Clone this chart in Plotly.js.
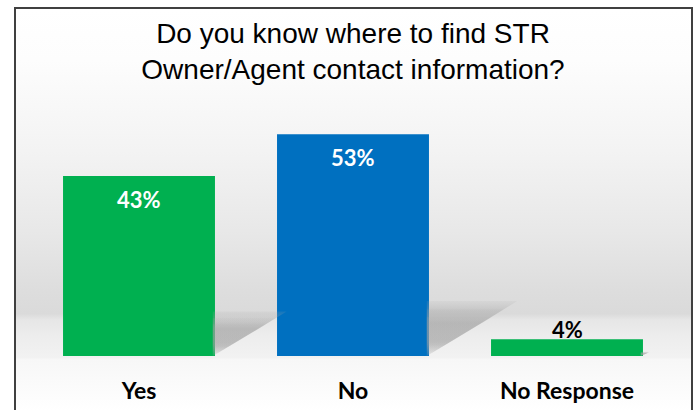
<!DOCTYPE html>
<html>
<head>
<meta charset="utf-8">
<script src="https://cdn.plot.ly/plotly-3.0.1.min.js"></script>
<style>html,body{margin:0;padding:0;background:#fff;}#chart{width:696px;height:410px;}</style>
</head>
<body>
<div id="chart"></div>
<script>
// ---- data ----
const categories = ['Yes', 'No', 'No Response'];
const values = [43, 53, 4];
const valueLabels = ['43%', '53%', '4%'];
const barColors = ['#00B050', '#0070C0', '#00B050'];
const chartTitle = 'Do you know where to find STR<br>Owner/Agent contact information?';

// ---- geometry / style ----
const W = 696, H = 410;
const M = {l: 32, r: 22, t: 105, b: 54};
const PW = W - M.l - M.r, PH = H - M.t - M.b;
const px2x = px => (px - M.l) / PW;
const py2y = py => 1 - (py - M.t) / PH;
const bargap = 0.29;
const halfW = (1 - bargap) / 2;
const idx = categories.map((_, i) => i);

// background gradient (wall + floor)
const stops = [
  [0, '#ffffff'], [0.127, '#fdfdfd'], [0.352, '#f3f3f3'], [0.551, '#e8e8e8'],
  [0.701, '#dddddd'], [0.756, '#dadada'], [0.771, '#e6e6e6'], [0.813, '#ededed'],
  [0.865, '#f2f2f2'], [0.870, '#f7f7f7'], [1, '#ffffff']
];
const svg = "<svg xmlns='http://www.w3.org/2000/svg' width='100' height='400' viewBox='0 0 100 400' preserveAspectRatio='none'>" +
  "<defs><linearGradient id='g' x1='0' y1='0' x2='0' y2='1'>" +
  stops.map(s => "<stop offset='" + s[0] + "' stop-color='" + s[1] + "'/>").join('') +
  "</linearGradient></defs><rect width='100' height='400' fill='url(#g)'/></svg>";
const bgSrc = 'data:image/svg+xml;base64,' + btoa(svg);

// soft shadows (visible part to the right of each bar), layered for blur
const blurLayers = [1.18, 1.0, 0.84];
const shadowTraces = [];
blurLayers.forEach(k => {
  idx.forEach(i => {
    const v = values[i];
    const xr = idx[i] + halfW;
    const hs = v * 0.21 * k;
    const dx = v * 0.0066 * k;
    shadowTraces.push({
      type: 'scatter', mode: 'none', hoverinfo: 'skip', showlegend: false,
      x: [xr - 0.01, xr + dx, xr - 0.01, xr - 0.01],
      y: [0, hs, hs, 0],
      fill: 'toself',
      fillgradient: {
        type: 'vertical',
        colorscale: [[0, 'rgba(170,170,170,0.05)'], [0.3, 'rgba(160,160,160,0.3)'],
                     [0.85, 'rgba(160,160,160,0.32)'], [1, 'rgba(170,170,170,0.12)']]
      }
    });
  });
});

const barTrace = {
  type: 'bar', x: idx, y: values,
  marker: {color: barColors, line: {width: 0}},
  hoverinfo: 'skip', showlegend: false
};

const annotations = idx.map(i => {
  const inside = values[i] > 10;
  return {
    x: idx[i], y: values[i], xref: 'x', yref: 'y',
    text: valueLabels[i], showarrow: false,
    yanchor: 'middle', yshift: inside ? -23 : 10,
    font: {family: 'Lato, sans-serif', size: 22, weight: 'bold', color: inside ? '#ffffff' : '#000000'}
  };
});

const layout = {
  width: W, height: H,
  margin: {l: M.l, r: M.r, t: M.t, b: M.b, pad: 0},
  paper_bgcolor: '#ffffff', plot_bgcolor: 'rgba(0,0,0,0)',
  bargap: bargap,
  title: {
    text: chartTitle, x: 0.5, xref: 'paper', xanchor: 'center',
    y: 1 - 43 / H, yref: 'container', yanchor: 'top',
    font: {family: 'Liberation Sans, Arial, sans-serif', size: 28, color: '#000000'}
  },
  xaxis: {
    type: 'linear', range: [-0.5, 2.5], tickvals: idx, ticktext: categories,
    showgrid: false, zeroline: false, showline: false, ticks: '',
    ticklabelstandoff: 19,
    tickfont: {family: 'Lato, sans-serif', size: 23, weight: 'bold', color: '#000000'},
    fixedrange: true
  },
  yaxis: {range: [0, 60], visible: false, fixedrange: true},
  images: [{
    source: bgSrc, xref: 'paper', yref: 'paper',
    x: px2x(15), y: py2y(9), sizex: px2x(692) - px2x(15), sizey: py2y(9) - py2y(412),
    xanchor: 'left', yanchor: 'top', sizing: 'stretch', layer: 'below'
  }],
  shapes: [{
    type: 'rect', xref: 'paper', yref: 'paper',
    x0: px2x(15), x1: px2x(692), y0: py2y(8), y1: py2y(430),
    line: {color: '#404040', width: 2}, fillcolor: 'rgba(0,0,0,0)', layer: 'above'
  }],
  annotations: annotations
};

Plotly.newPlot('chart', shadowTraces.concat([barTrace]), layout, {displayModeBar: false, staticPlot: true});
</script>
</body>
</html>
